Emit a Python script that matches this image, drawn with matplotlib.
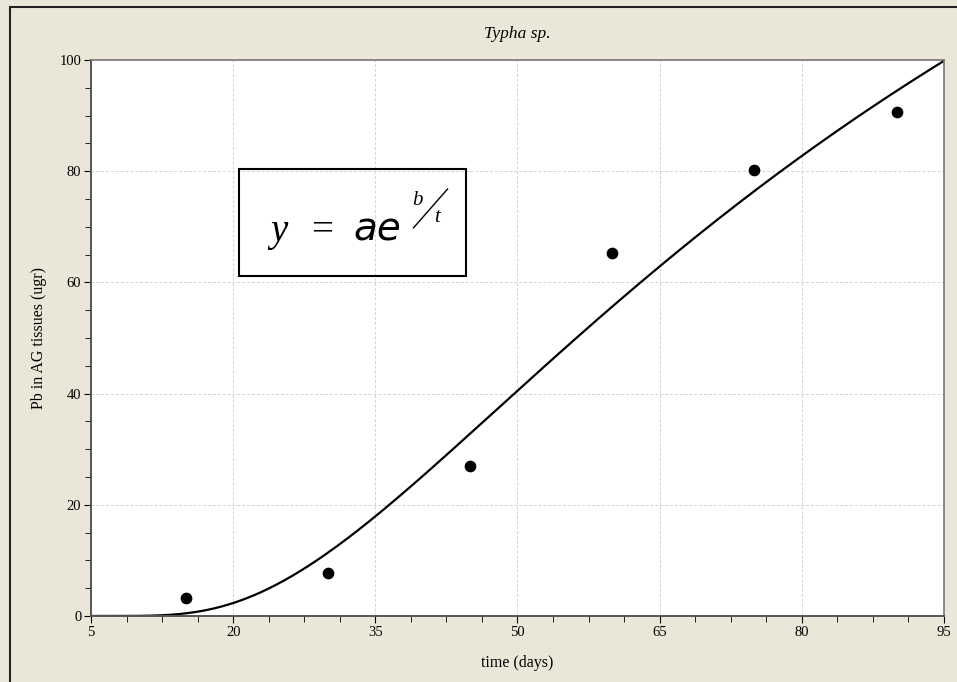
import matplotlib.pyplot as plt
from matplotlib.patches import Rectangle
import numpy as np

# measured points
days = [15, 30, 45, 60, 75, 90]
pb_ag = [3.3, 7.7, 27.0, 65.2, 80.3, 90.6]

# fitted model y = a * exp(b / t)
fit_a = 272.0
fit_b = -95.2
t_start, t_end = 5, 95

x_ticks = [5, 20, 35, 50, 65, 80, 95]
y_ticks = [0, 20, 40, 60, 80, 100]

serif = ['Liberation Serif', 'DejaVu Serif']
plt.rcParams['font.family'] = serif

fig = plt.figure(figsize=(9.57, 6.82), dpi=100)
fig.patch.set_facecolor('#ebe7d8')
# outer frame (only top/left visible in the crop)
fig.add_artist(Rectangle((10 / 957, -0.1), 1.2, (682 - 7) / 682 + 0.1,
                         transform=fig.transFigure, fill=False,
                         edgecolor='#222222', linewidth=1.5))

ax = fig.add_axes([0.0951, 0.0968, 0.8913, 0.8152])
ax.set_facecolor('white')

t = np.linspace(t_start, t_end, 400)
ax.plot(t, fit_a * np.exp(fit_b / t), color='black', linewidth=1.6)
ax.scatter(days, pb_ag, s=55, color='black', zorder=3)

ax.set_xlim(5, 95)
ax.set_ylim(0, 100)
ax.set_xticks(x_ticks)
ax.set_yticks(y_ticks)
ax.set_xticks(np.arange(5, 95.1, 3.75), minor=True)
ax.set_yticks(np.arange(0, 100.1, 5), minor=True)
ax.tick_params(which='both', direction='out', labelsize=10.5, colors='black')
ax.tick_params(which='major', length=5, pad=2)
ax.tick_params(which='minor', length=4)
ax.grid(True, which='major', linestyle=(0, (3, 2)), color='#d2d2d2', linewidth=0.7)

for side in ['top', 'right']:
    ax.spines[side].set_color('#777777')
    ax.spines[side].set_linewidth(1.2)
for side in ['left', 'bottom']:
    ax.spines[side].set_color('#555555')
    ax.spines[side].set_linewidth(1.4)

ax.set_xlabel('time (days)', fontsize=11.5, labelpad=12)
ax.set_ylabel('Pb in AG tissues (ugr)', fontsize=11.5, labelpad=9)
ax.set_title('Typha sp.', fontsize=12.5, style='italic', pad=16)

# equation box
ax.add_patch(Rectangle((0.1735, 0.6115), 0.2661, 0.1925, transform=ax.transAxes,
                       fill=False, edgecolor='black', linewidth=1.5, zorder=4))
ax.text(0.21, 0.675, 'y', transform=ax.transAxes, fontsize=28, style='italic',
        ha='left', va='baseline')
ax.text(0.258, 0.675, '=', transform=ax.transAxes, fontsize=28,
        ha='left', va='baseline')
ax.text(0.308, 0.675, 'ae', transform=ax.transAxes, fontsize=28, style='italic',
        family=['DejaVu Sans'], ha='left', va='baseline')
ax.text(0.377, 0.74, 'b', transform=ax.transAxes, fontsize=15, style='italic',
        ha='left', va='baseline')
ax.text(0.402, 0.709, 't', transform=ax.transAxes, fontsize=15, style='italic',
        ha='left', va='baseline')
ax.plot([0.378, 0.418], [0.698, 0.768], transform=ax.transAxes,
        color='black', linewidth=1.0)

fig.savefig('out.png', dpi=100, facecolor=fig.get_facecolor())
